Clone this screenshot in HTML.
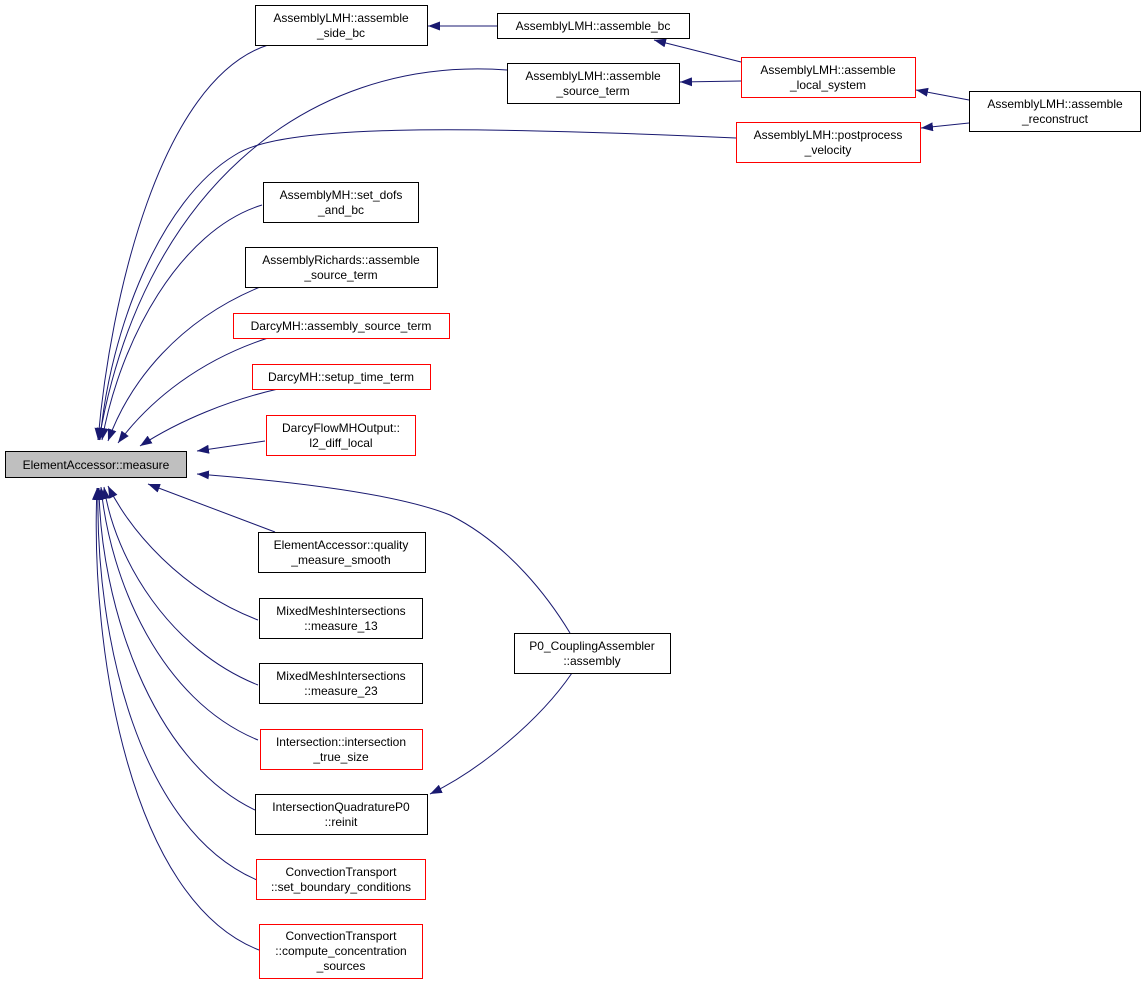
<!DOCTYPE html>
<html><head><meta charset="utf-8"><style>
html,body{margin:0;padding:0;background:#fff;}
svg{display:block;}
text{font-family:"Liberation Sans",Arial,sans-serif;font-size:12px;fill:#000;}
</style></head><body>
<svg width="1145" height="985" viewBox="0 0 1145 985" xmlns="http://www.w3.org/2000/svg">
<defs>
<marker id="a" viewBox="0 0 12 9" refX="12" refY="4.5" markerWidth="12" markerHeight="9" markerUnits="userSpaceOnUse" orient="auto">
<path d="M0,0 L12,4.5 L0,9 z" fill="#191970"/>
</marker>
</defs>
<g fill="none" stroke="#191970" stroke-width="1" marker-end="url(#a)">
<path d="M268,45 C160,80 110,300 98,440"/>
<path d="M507,70 C300,55 140,200 99,440"/>
<path d="M736,138 C450,125 280,125 235,155 C160,200 110,330 100,440"/>
<path d="M262,205 C180,230 120,340 102,440"/>
<path d="M260,287 C180,320 130,380 108,441"/>
<path d="M268,338 C200,360 150,400 118,443"/>
<path d="M278,389 C230,400 180,420 140,446"/>
<path d="M265,441 L197,451"/>
<path d="M275,532 L148,484"/>
<path d="M570,633 C550,600 510,545 450,515 C400,495 300,482 197,474"/>
<path d="M258,620 C180,590 130,530 108,486"/>
<path d="M258,685 C170,650 115,560 104,487"/>
<path d="M258,740 C160,700 110,580 101,487"/>
<path d="M255,810 C150,760 100,600 99,488"/>
<path d="M257,880 C140,830 95,640 98,488"/>
<path d="M259,950 C130,900 90,650 97,488"/>
<path d="M572,673 C540,720 480,770 430,794"/>
<path d="M497,26 L428,26"/>
<path d="M741,62 L654,40"/>
<path d="M741,81 L680,82"/>
<path d="M969,100 L916,90"/>
<path d="M969,123 L921,128"/>
</g>
<g stroke-width="1">
<rect x="5.5" y="451.5" width="181" height="26" fill="#bfbfbf" stroke="#000"/>
<text x="96" y="469" text-anchor="middle">ElementAccessor::measure</text>

<rect x="255.5" y="5.5" width="172" height="40" fill="#fff" stroke="#000"/>
<text x="341" y="22" text-anchor="middle">AssemblyLMH::assemble</text>
<text x="341" y="37" text-anchor="middle">_side_bc</text>

<rect x="497.5" y="13.5" width="192" height="25" fill="#fff" stroke="#000"/>
<text x="593" y="30" text-anchor="middle">AssemblyLMH::assemble_bc</text>

<rect x="507.5" y="63.5" width="172" height="40" fill="#fff" stroke="#000"/>
<text x="593" y="80" text-anchor="middle">AssemblyLMH::assemble</text>
<text x="593" y="95" text-anchor="middle">_source_term</text>

<rect x="741.5" y="57.5" width="174" height="40" fill="#fff" stroke="#ff0000"/>
<text x="828" y="74" text-anchor="middle">AssemblyLMH::assemble</text>
<text x="828" y="89" text-anchor="middle">_local_system</text>

<rect x="969.5" y="91.5" width="171" height="40" fill="#fff" stroke="#000"/>
<text x="1055" y="108" text-anchor="middle">AssemblyLMH::assemble</text>
<text x="1055" y="123" text-anchor="middle">_reconstruct</text>

<rect x="736.5" y="122.5" width="184" height="40" fill="#fff" stroke="#ff0000"/>
<text x="828" y="139" text-anchor="middle">AssemblyLMH::postprocess</text>
<text x="828" y="154" text-anchor="middle">_velocity</text>

<rect x="263.5" y="182.5" width="155" height="40" fill="#fff" stroke="#000"/>
<text x="341" y="199" text-anchor="middle">AssemblyMH::set_dofs</text>
<text x="341" y="214" text-anchor="middle">_and_bc</text>

<rect x="245.5" y="247.5" width="192" height="40" fill="#fff" stroke="#000"/>
<text x="341" y="264" text-anchor="middle">AssemblyRichards::assemble</text>
<text x="341" y="279" text-anchor="middle">_source_term</text>

<rect x="233.5" y="313.5" width="216" height="25" fill="#fff" stroke="#ff0000"/>
<text x="341" y="330" text-anchor="middle">DarcyMH::assembly_source_term</text>

<rect x="252.5" y="364.5" width="178" height="25" fill="#fff" stroke="#ff0000"/>
<text x="341" y="381" text-anchor="middle">DarcyMH::setup_time_term</text>

<rect x="266.5" y="415.5" width="149" height="40" fill="#fff" stroke="#ff0000"/>
<text x="341" y="432" text-anchor="middle">DarcyFlowMHOutput::</text>
<text x="341" y="447" text-anchor="middle">l2_diff_local</text>

<rect x="258.5" y="532.5" width="167" height="40" fill="#fff" stroke="#000"/>
<text x="341" y="549" text-anchor="middle">ElementAccessor::quality</text>
<text x="341" y="564" text-anchor="middle">_measure_smooth</text>

<rect x="259.5" y="598.5" width="163" height="40" fill="#fff" stroke="#000"/>
<text x="341" y="615" text-anchor="middle">MixedMeshIntersections</text>
<text x="341" y="630" text-anchor="middle">::measure_13</text>

<rect x="259.5" y="663.5" width="163" height="40" fill="#fff" stroke="#000"/>
<text x="341" y="680" text-anchor="middle">MixedMeshIntersections</text>
<text x="341" y="695" text-anchor="middle">::measure_23</text>

<rect x="260.5" y="729.5" width="162" height="40" fill="#fff" stroke="#ff0000"/>
<text x="341" y="746" text-anchor="middle">Intersection::intersection</text>
<text x="341" y="761" text-anchor="middle">_true_size</text>

<rect x="255.5" y="794.5" width="172" height="40" fill="#fff" stroke="#000"/>
<text x="341" y="811" text-anchor="middle">IntersectionQuadratureP0</text>
<text x="341" y="826" text-anchor="middle">::reinit</text>

<rect x="256.5" y="859.5" width="169" height="40" fill="#fff" stroke="#ff0000"/>
<text x="341" y="876" text-anchor="middle">ConvectionTransport</text>
<text x="341" y="891" text-anchor="middle">::set_boundary_conditions</text>

<rect x="259.5" y="924.5" width="163" height="54" fill="#fff" stroke="#ff0000"/>
<text x="341" y="940" text-anchor="middle">ConvectionTransport</text>
<text x="341" y="955" text-anchor="middle">::compute_concentration</text>
<text x="341" y="970" text-anchor="middle">_sources</text>

<rect x="514.5" y="633.5" width="156" height="40" fill="#fff" stroke="#000"/>
<text x="592" y="650" text-anchor="middle">P0_CouplingAssembler</text>
<text x="592" y="665" text-anchor="middle">::assembly</text>
</g>
</svg>
</body></html>
